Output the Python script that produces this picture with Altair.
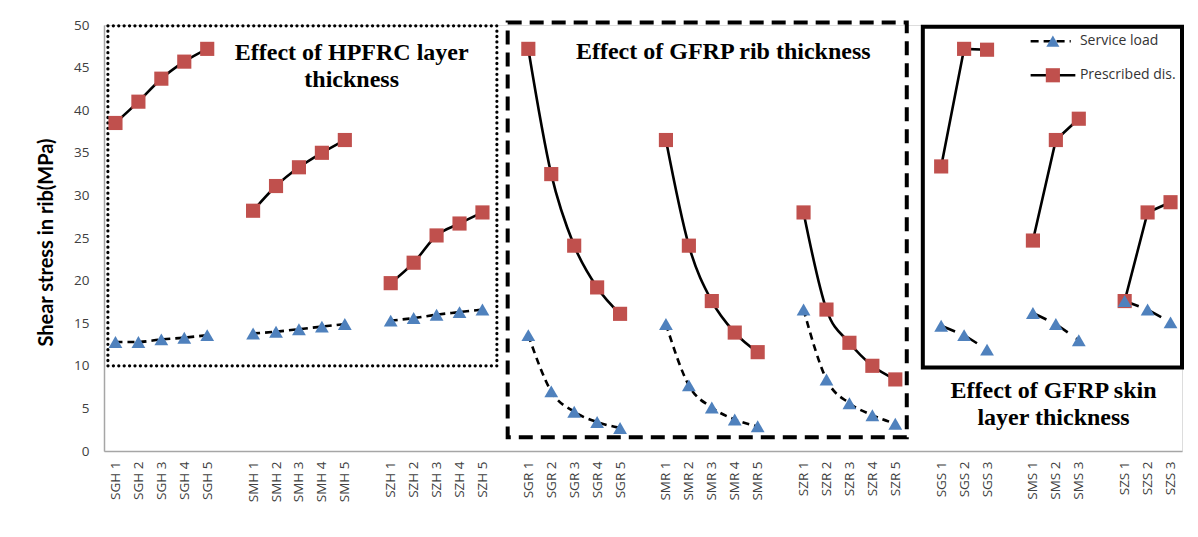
import altair as alt
import pandas as pd

# ---------------- data ----------------
group_names = ["SGH", "SMH", "SZH", "SGR", "SMR", "SZR", "SGS", "SMS", "SZS"]
skin_groups = ["SGS", "SMS", "SZS"]

sgh_prescribed = [38.5, 41.0, 43.7, 45.7, 47.2]
sgh_service = [12.8, 12.8, 13.1, 13.3, 13.6]
smh_prescribed = [28.2, 31.1, 33.3, 35.0, 36.5]
smh_service = [13.8, 14.0, 14.3, 14.6, 14.9]
szh_prescribed = [19.7, 22.1, 25.3, 26.7, 28.0]
szh_service = [15.3, 15.6, 16.0, 16.3, 16.6]
sgr_prescribed = [47.2, 32.5, 24.1, 19.2, 16.1]
sgr_service = [13.6, 7.0, 4.6, 3.4, 2.7]
smr_prescribed = [36.5, 24.1, 17.6, 13.9, 11.6]
smr_service = [14.9, 7.7, 5.1, 3.7, 2.9]
szr_prescribed = [28.0, 16.6, 12.7, 10.0, 8.4]
szr_service = [16.6, 8.4, 5.6, 4.2, 3.2]
sgs_prescribed = [33.4, 47.2, 47.1]
sgs_service = [14.7, 13.6, 11.9]
sms_prescribed = [24.7, 36.5, 39.0]
sms_service = [16.2, 14.9, 13.0]
szs_prescribed = [17.6, 28.0, 29.2]
szs_service = [17.6, 16.6, 15.1]

prescribed = [sgh_prescribed, smh_prescribed, szh_prescribed, sgr_prescribed,
              smr_prescribed, szr_prescribed, sgs_prescribed, sms_prescribed,
              szs_prescribed]
service = [sgh_service, smh_service, szh_service, sgr_service, smr_service,
           szr_service, sgs_service, sms_service, szs_service]

y_ticks = [0, 5, 10, 15, 20, 25, 30, 35, 40, 45, 50]

# ---------------- build table ----------------
rows = []
labels = []          # label per slot (blank slots between groups)
tick_positions = []
pos = 0
for gi, g in enumerate(group_names):
    for k, (p, s) in enumerate(zip(prescribed[gi], service[gi])):
        lab = f"{g} {k + 1}"
        labels.append(lab)
        tick_positions.append(pos)
        skin = g in skin_groups
        rows.append({"pos": pos, "label": lab, "group": g, "skin": skin,
                     "series": "Prescribed dis.", "value": p})
        rows.append({"pos": pos, "label": lab, "group": g, "skin": skin,
                     "series": "Service load", "value": s})
        pos += 1
    if gi < len(group_names) - 1:
        labels.append("")
        pos += 1
n_slots = pos
df = pd.DataFrame(rows)

label_expr = "[" + ",".join("'" + l + "'" for l in labels) + "][datum.value]"

W, H = 1078, 426
x_scale = alt.Scale(domain=[-0.5, n_slots - 0.5], nice=False, zero=False)
y_scale = alt.Scale(domain=[0, 50], nice=False)

x_enc = alt.X("pos:Q", scale=x_scale,
              axis=alt.Axis(values=tick_positions, tickCount=200, labelExpr=label_expr,
                            labelAngle=-90, labelFont="Open Sans", labelFontSize=13.5,
                            labelColor="#404040", labelPadding=10, ticks=False, grid=False,
                            title=None, domainColor="#A6A6A6", domainWidth=1.5,
                            labelOverlap=False, labelBound=False, labelFlush=False))
y_enc = alt.Y("value:Q", scale=y_scale,
              axis=alt.Axis(values=y_ticks, tickCount=200, format="d", ticks=False,
                            grid=False, labelFont="Open Sans", labelFontSize=13.5,
                            labelColor="#404040", labelPadding=15, domainColor="#A6A6A6",
                            domainWidth=1.5, labelOverlap=False,
                            title="Shear stress in rib(MPa)", titleFont="Lato",
                            titleFontSize=20, titleFontWeight="bold", titleColor="#000000",
                            titleX=-58, titleY=H / 2 + 4, titleAngle=-90,
                            titleAlign="center", titleBaseline="middle"))

base = alt.Chart(df)

pres = base.transform_filter(alt.datum.series == "Prescribed dis.")
serv = base.transform_filter(alt.datum.series == "Service load")

pres_curve = pres.transform_filter(alt.datum.skin == False).mark_line(
    color="black", strokeWidth=2.6, interpolate="monotone").encode(
    x=x_enc, y=y_enc, detail="group:N")
pres_straight = pres.transform_filter(alt.datum.skin == True).mark_line(
    color="black", strokeWidth=2.6).encode(x="pos:Q", y="value:Q", detail="group:N")
serv_curve = serv.transform_filter(alt.datum.skin == False).mark_line(
    color="black", strokeWidth=2.6, strokeDash=[7, 5], interpolate="monotone").encode(
    x="pos:Q", y="value:Q", detail="group:N")
serv_straight = serv.transform_filter(alt.datum.skin == True).mark_line(
    color="black", strokeWidth=2.6, strokeDash=[15, 10]).encode(
    x="pos:Q", y="value:Q", detail="group:N")
pres_pts = pres.mark_point(shape="square", filled=True, size=200, color="#C0504D",
                           opacity=1).encode(x="pos:Q", y="value:Q")
serv_pts = serv.mark_point(shape="triangle-up", filled=True, size=190, color="#4F81BD",
                           opacity=1).encode(x="pos:Q", y="value:Q")

# ---------------- annotation boxes (data coordinates) ----------------
box_x = [-0.33, 17.1, 35.2]
box_x2 = [16.63, 34.5, 46.5]
box_y = [10.0, 1.6, 9.8]
box_y2 = [49.9, 50.3, 49.8]
boxes = pd.DataFrame({"x": box_x, "x2": box_x2, "y": box_y, "y2": box_y2,
                      "kind": ["dot", "dash", "solid"]})

def box_layer(kind, **style):
    return alt.Chart(boxes).transform_filter(alt.datum.kind == kind).mark_rect(
        fill="transparent", stroke="black", **style).encode(
        x="x:Q", x2="x2:Q", y="y:Q", y2="y2:Q")

dot_box = box_layer("dot", strokeWidth=3.2, strokeDash=[0.1, 5.3], strokeCap="round")
dash_box = box_layer("dash", strokeWidth=4, strokeDash=[14, 8])
solid_box = box_layer("solid", strokeWidth=4)

# ---------------- annotation texts ----------------
note_text = ["Effect of HPFRC layer", "thickness", "Effect of GFRP rib thickness",
             "Effect of GFRP skin", "layer thickness"]
note_x = [10.3, 10.3, 26.5, 40.9, 40.9]
note_y = [46.7, 43.5, 46.8, 7.1, 3.9]
notes = pd.DataFrame({"t": note_text, "x": note_x, "y": note_y})
notes_layer = alt.Chart(notes).mark_text(font="Liberation Serif", fontWeight="bold",
                                         fontSize=24, color="black", align="center",
                                         baseline="middle").encode(
    x="x:Q", y="y:Q", text="t:N")

# ---------------- manual legend ----------------
leg_names = ["Service load", "Prescribed dis."]
leg_y = [48.1, 44.1]
leg_x0 = [39.9, 39.9]
leg_x1 = [41.65, 41.85]
leg_mx = [40.87, 40.87]
leg_tx = [42.05, 42.05]
leg = pd.DataFrame({"name": leg_names, "y": leg_y, "x0": leg_x0, "x1": leg_x1,
                    "mx": leg_mx, "tx": leg_tx})
legb = alt.Chart(leg)
leg_serv_line = legb.transform_filter(alt.datum.name == "Service load").mark_rule(
    color="black", strokeWidth=2.6, strokeDash=[8, 5]).encode(x="x0:Q", x2="x1:Q", y="y:Q")
leg_pres_line = legb.transform_filter(alt.datum.name == "Prescribed dis.").mark_rule(
    color="black", strokeWidth=2.6).encode(x="x0:Q", x2="x1:Q", y="y:Q")
leg_serv_pt = legb.transform_filter(alt.datum.name == "Service load").mark_point(
    shape="triangle-up", filled=True, size=170, color="#4F81BD", opacity=1).encode(
    x="mx:Q", y="y:Q")
leg_pres_pt = legb.transform_filter(alt.datum.name == "Prescribed dis.").mark_point(
    shape="square", filled=True, size=200, color="#C0504D", opacity=1).encode(
    x="mx:Q", y="y:Q")
leg_text = legb.mark_text(font="Open Sans", fontSize=14, color="#333333", align="left",
                          baseline="middle").encode(x="tx:Q", y="y:Q", text="name:N")

# ---------------- outer frame (top & left edges of the figure) ----------------
frame_top = alt.Chart(pd.DataFrame({"a": [0]})).mark_rule(color="#8C8C8C", strokeWidth=1.5).encode(
    x=alt.value(-99), x2=alt.value(W + 20), y=alt.value(-21))
frame_left = alt.Chart(pd.DataFrame({"a": [0]})).mark_rule(color="#8C8C8C", strokeWidth=1.5).encode(
    x=alt.value(-99), y=alt.value(-21), y2=alt.value(H + 100))

chart = alt.layer(
    pres_curve, pres_straight, serv_curve, serv_straight, dot_box, dash_box, solid_box,
    pres_pts, serv_pts, notes_layer, leg_serv_line, leg_pres_line, leg_serv_pt,
    leg_pres_pt, leg_text, frame_top, frame_left
).properties(
    width=W, height=H,
    autosize=alt.AutoSizeParams(type="none"),
    padding={"left": 96, "top": 17, "right": 8, "bottom": 76},
).configure_view(stroke=None).configure(background="white")

chart.save("out.html", embed_options={"renderer": "svg", "actions": False})
